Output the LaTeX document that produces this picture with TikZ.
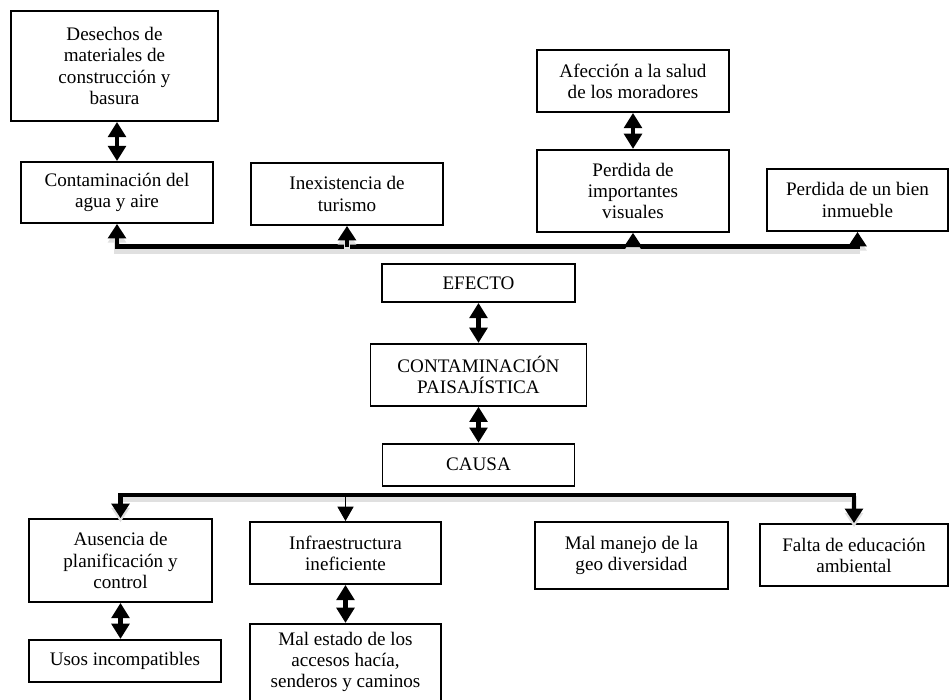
\documentclass[tikz,border=0pt]{standalone}
\usepackage{fontspec}
\setmainfont{Liberation Serif}
\usetikzlibrary{arrows.meta,positioning}
\tikzstyle{box} = [rectangle, minimum width=4.8cm, minimum height=1.55cm, text centered, align=center, draw=black, line width=1.3pt, inner sep=2pt, font=\fontsize{13.6}{15}\selectfont]
\tikzstyle{bus} = [line width=3.5pt, >={Triangle[width=0.44cm,length=0.36cm]}, preaction={draw=black!12, line width=4pt, transform canvas={yshift=-3pt}}]
\tikzstyle{thinarrow} = [line width=1pt, ->, >={Triangle[width=0.4cm,length=0.36cm]}]
\tikzstyle{dbl} = [line width=3pt, <->, >={Triangle[width=0.44cm,length=0.38cm]}]

\begin{document}
\begin{tikzpicture}
\useasboundingbox (0,0) rectangle (23.75,-17.5);

% efectos
\node (desechos) [box, minimum width=5.175cm, minimum height=2.75cm] at (2.8625,-1.65) {Desechos de\\materiales de\\construcción y\\basura};
\node (contam) [box, minimum height=1.525cm] at (2.925,-4.8125) {Contaminación del\\agua y aire};
\node (turismo) [box] at (8.675,-4.85) {Inexistencia de\\turismo};
\node (afeccion) [box] at (15.825,-2.025) {Afección a la salud\\de los moradores};
\node (visuales) [box, minimum height=2.05cm, below=0.9cm of afeccion] {Perdida de\\importantes\\visuales};
\node (inmueble) [box, minimum width=4.525cm] at (21.4375,-5.0) {Perdida de un bien\\inmueble};

% problema central
\node (efecto) [box, minimum width=4.825cm, minimum height=0.95cm] at (11.9625,-7.075) {EFECTO};
\node (problema) [box, minimum width=5.4cm, below=1cm of efecto] {CONTAMINACIÓN\\PAISAJÍSTICA};
\node (causa) [box, minimum height=1.05cm, below=0.9cm of problema] {CAUSA};

% causas
\node (ausencia) [box, minimum width=4.575cm, minimum height=2.075cm] at (3.0125,-14.0125) {Ausencia de\\planificación y\\control};
\node (usos) [box, minimum height=1.05cm, below=0.9cm of ausencia, xshift=0.11cm] {Usos incompatibles};
\node (infra) [box, minimum width=4.775cm] at (8.6375,-13.825) {Infraestructura\\ineficiente};
\node (malestado) [box, minimum width=4.775cm, minimum height=1.925cm, below=0.95cm of infra] {Mal estado de los\\accesos hacía,\\senderos y caminos};
\node (malmanejo) [box, minimum width=4.825cm, minimum height=1.675cm] at (15.7875,-13.8875) {Mal manejo de la\\geo diversidad};
\node (falta) [box, minimum width=4.7cm] at (21.35,-13.875) {Falta de educación\\ambiental};

\coordinate (topbus) at (11.9,-6.17);
\coordinate (lowbus) at (11.9,-12.375);

\draw [bus, <->] (contam.south) |- (topbus) -| (inmueble.south);
\draw [bus, ->] (turismo.south |- topbus) -- (turismo.south);
\draw [bus, ->] (visuales.south |- topbus) -- (visuales.south);
\draw [bus, <->] (ausencia.north) |- (lowbus) -| (falta.north);
\draw [thinarrow] (infra.north |- lowbus) -- (infra.north);

\draw [dbl] (desechos.south -| contam.north) -- (contam.north);
\draw [dbl] (afeccion) -- (visuales);
\draw [dbl] (efecto) -- (problema);
\draw [dbl] (problema) -- (causa);
\draw [dbl] (ausencia.south) -- (ausencia.south |- usos.north);
\draw [dbl] (infra) -- (malestado);

\end{tikzpicture}
\end{document}
